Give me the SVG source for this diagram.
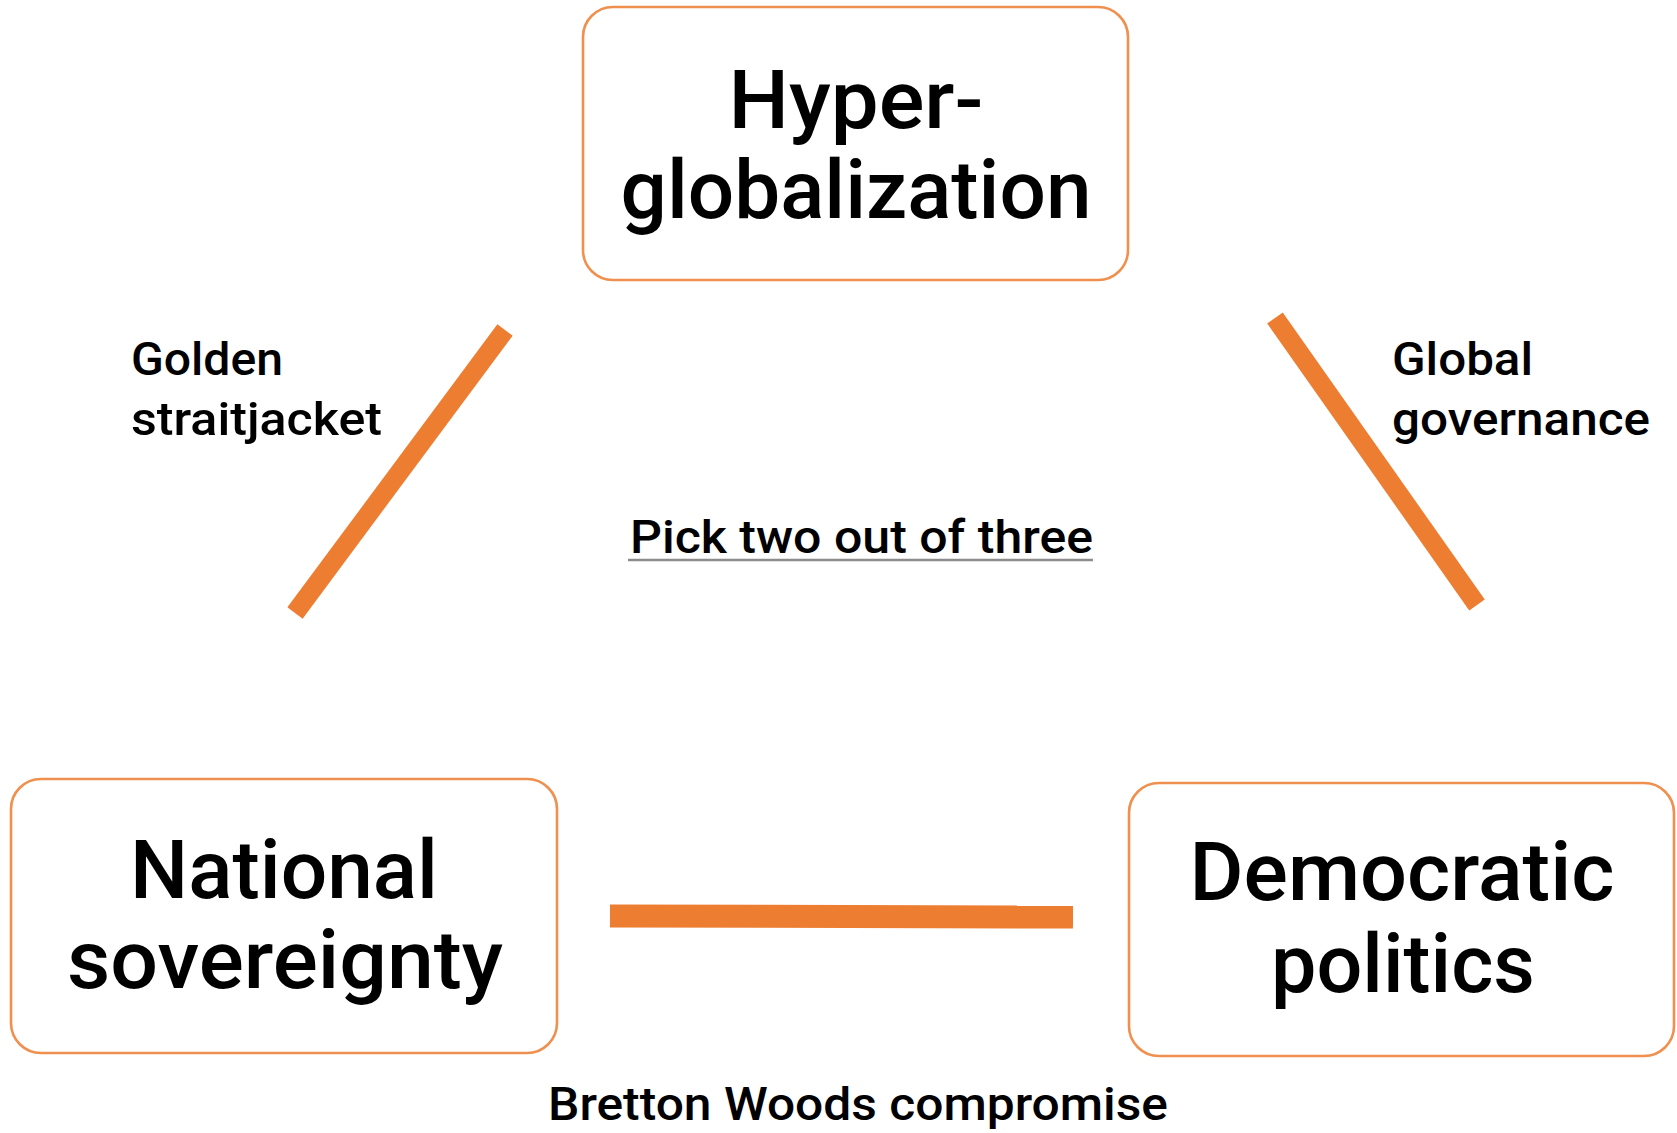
<svg xmlns="http://www.w3.org/2000/svg" width="1677" height="1133" viewBox="0 0 1677 1133">
<style>
.box{fill:#fff;stroke:#F0904F;stroke-width:2.6}
.big{font-family:Roboto,"Liberation Sans",sans-serif;font-weight:500;font-size:82px;fill:#000;text-anchor:middle}
.lbl{font-family:Roboto,"Liberation Sans",sans-serif;font-weight:500;font-size:46px;fill:#000}
.con{stroke:#ED7D31;stroke-linecap:butt;fill:none}
</style>
<rect width="1677" height="1133" fill="#fff"/>
<g id="node-hyperglobalization">
<rect class="box" x="583" y="7" width="545" height="273" rx="30"/>
<text class="big" x="856" y="128" textLength="255" lengthAdjust="spacingAndGlyphs">Hyper-</text>
<text class="big" x="856" y="218" textLength="471" lengthAdjust="spacingAndGlyphs">globalization</text>
</g>
<g id="node-national-sovereignty">
<rect class="box" x="11" y="779" width="546" height="274" rx="30"/>
<text class="big" x="284" y="898" textLength="308" lengthAdjust="spacingAndGlyphs">National</text>
<text class="big" x="285" y="988" textLength="436" lengthAdjust="spacingAndGlyphs">sovereignty</text>
</g>
<g id="node-democratic-politics">
<rect class="box" x="1129" y="783" width="545" height="273" rx="30"/>
<text class="big" x="1402" y="900" textLength="425" lengthAdjust="spacingAndGlyphs">Democratic</text>
<text class="big" x="1403" y="992" textLength="264" lengthAdjust="spacingAndGlyphs">politics</text>
</g>
<g id="connectors">
<line class="con" x1="505" y1="330" x2="295" y2="613" stroke-width="19"/>
<line class="con" x1="1275" y1="318" x2="1477" y2="605" stroke-width="19"/>
<line class="con" x1="610" y1="916" x2="1073" y2="917" stroke-width="23"/>
</g>
<g id="labels">
<text class="lbl" x="131" y="375" textLength="152" lengthAdjust="spacingAndGlyphs">Golden</text>
<text class="lbl" x="131" y="435" textLength="251" lengthAdjust="spacingAndGlyphs">straitjacket</text>
<text class="lbl" x="1392" y="375" textLength="141" lengthAdjust="spacingAndGlyphs">Global</text>
<text class="lbl" x="1392" y="435" textLength="258" lengthAdjust="spacingAndGlyphs">governance</text>
<text class="lbl" x="630" y="553" textLength="463" lengthAdjust="spacingAndGlyphs">Pick two out of three</text>
<line x1="628" y1="560" x2="1093" y2="560" stroke="#8c8c8c" stroke-width="2.5"/>
<text class="lbl" x="548" y="1120" textLength="620" lengthAdjust="spacingAndGlyphs">Bretton Woods compromise</text>
</g>
</svg>
